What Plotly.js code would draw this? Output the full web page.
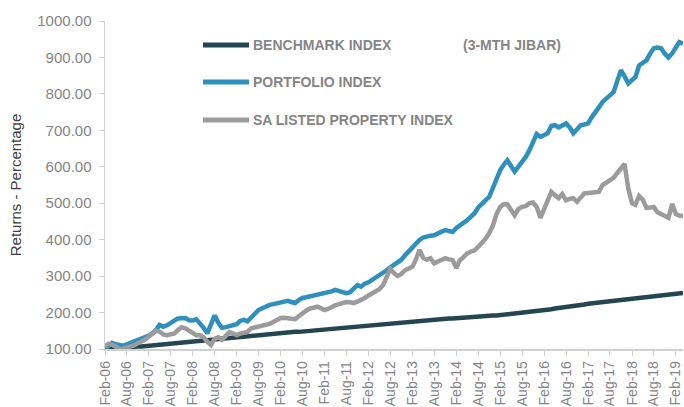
<!DOCTYPE html>
<html>
<head>
<meta charset="utf-8">
<script src="https://cdn.plot.ly/plotly-3.0.1.min.js"></script>
<style>html,body{margin:0;padding:0;background:#fff;}#chart{width:684px;height:407px;}</style>
</head>
<body>
<div id="chart"></div>
<script>
// Monthly observations, Feb-2006 .. Apr-2019
const startYear = 2006, startMonth = 2, nMonths = 159;

const benchmark = [
100,101,101,102,103,104,104,105,106,107,107,
108,109,110,111,112,113,114,115,116,117,118,119,121,122,
123,124,125,126,127,128,129,130,131,132,133,134,
135,136,137,137,138,139,140,141,142,143,143,144,
145,145,146,147,147,148,149,149,150,151,151,152,
153,154,155,156,157,158,159,160,161,162,163,164,
165,166,167,168,169,170,171,172,173,174,175,176,
177,177,178,179,180,181,181,182,183,184,184,185,
186,186,187,188,188,189,190,190,191,192,192,193,
194,195,196,197,198,199,200,201,202,204,205,207,
208,209,211,212,214,215,216,218,219,221,222,224,
225,226,227,228,229,230,231,232,233,234,235,236,
237,238,239,241,242,243,244,246,247,248,250,251,
253,254];

const portfolio = [
100,110,117,113,110,109,113,117,119,122,127,131,137,143,152,166,161,165,173,178,
184,186,185,179,178,182,171,158,143,165,192,172,158,160,162,163,168,177,180,176,
186,198,207,212,218,221,223,225,227,229,232,229,226,234,240,242,244,245,247,249,
251,253,258,262,258,254,253,256,265,275,271,279,283,289,295,302,308,316,324,330,
338,345,357,368,377,388,399,406,410,411,412,418,422,426,423,421,432,440,446,453,
462,472,488,500,508,517,540,570,591,605,618,603,587,600,613,627,645,665,690,682,
686,692,712,714,708,712,719,708,692,703,714,716,719,735,747,763,778,788,796,805,
835,865,848,829,838,846,878,886,892,910,925,927,925,910,900,911,930,942,938];

const property = [
106,114,112,106,100,101,103,106,110,116,120,126,134,140,150,148,140,138,141,143,
152,160,157,150,142,138,138,132,120,111,128,132,125,138,146,142,138,142,145,147,
157,159,161,163,166,169,174,180,185,186,185,184,182,190,199,205,211,214,216,212,
207,210,216,220,223,226,229,228,226,230,234,240,247,253,258,264,275,296,320,308,
300,306,316,321,326,345,372,350,345,349,335,340,346,349,346,344,322,343,352,362,
367,370,380,390,402,418,438,470,490,497,497,482,467,484,490,492,500,502,490,460,
485,510,531,522,514,525,508,512,514,504,515,527,528,528,530,531,550,556,562,570,
583,595,608,540,500,496,520,510,487,488,490,475,470,465,460,498,470,466,465];

const tickDates = ['2006-02-01','2006-08-01','2007-02-01','2007-08-01','2008-02-01','2008-08-01',
'2009-02-01','2009-08-01','2010-02-01','2010-08-01','2011-02-01','2011-08-01','2012-02-01',
'2012-08-01','2013-02-01','2013-08-01','2014-02-01','2014-08-01','2015-02-01','2015-08-01',
'2016-02-01','2016-08-01','2017-02-01','2017-08-01','2018-02-01','2018-08-01','2019-02-01'];
const tickLabels = ['Feb-06','Aug-06','Feb-07','Aug-07','Feb-08','Aug-08','Feb-09','Aug-09',
'Feb-10','Aug-10','Feb-11','Aug-11','Feb-12','Aug-12','Feb-13','Aug-13','Feb-14','Aug-14',
'Feb-15','Aug-15','Feb-16','Aug-16','Feb-17','Aug-17','Feb-18','Aug-18','Feb-19'];
const yTicks = [100,200,300,400,500,600,700,800,900,1000];

const seriesNames = ['BENCHMARK INDEX','PORTFOLIO INDEX','SA LISTED PROPERTY INDEX'];
const subTitle = '(3-MTH JIBAR)';
const colors = ['#254651','#2f8fbd','#9b9b9b'];

const dates = [];
for (let i = 0; i < nMonths; i++) {
  const m0 = startMonth - 1 + i;
  const y = startYear + Math.floor(m0 / 12);
  const m = (m0 % 12) + 1;
  dates.push(y + '-' + String(m).padStart(2, '0') + '-01');
}

const series = [benchmark, portfolio, property];
const traces = series.map((vals, i) => ({
  x: dates, y: vals, type: 'scatter', mode: 'lines', name: seriesNames[i],
  line: {color: colors[i], width: 4.5, shape: 'linear'},
  hoverinfo: 'skip', cliponaxis: false
}));

// plot area in pixels: left 105, right 683, top 21, bottom 349
const L = 105, R = 683, T = 21, B = 349;
const px = v => (v - L) / (R - L);
const py = v => (B - v) / (B - T);
const legendY = [45, 82, 120];

const shapes = legendY.map((yy, i) => ({
  type: 'line', xref: 'paper', yref: 'paper',
  x0: px(203), x1: px(249), y0: py(yy), y1: py(yy),
  line: {color: colors[i], width: 5}
}));
const annotations = legendY.map((yy, i) => ({
  xref: 'paper', yref: 'paper', x: px(251), y: py(yy), xanchor: 'left', yanchor: 'middle',
  text: '<b>' + seriesNames[i] + '</b>', showarrow: false,
  font: {family: 'Liberation Sans, Arial, sans-serif', size: 14, color: '#858585'}
}));
annotations.push({
  xref: 'paper', yref: 'paper', x: px(461), y: py(45), xanchor: 'left', yanchor: 'middle',
  text: '<b>' + subTitle + '</b>', showarrow: false,
  font: {family: 'Liberation Sans, Arial, sans-serif', size: 14, color: '#858585'}
});

const layout = {
  width: 684, height: 407,
  margin: {l: L, r: 684 - R, t: T, b: 407 - B, pad: 0},
  paper_bgcolor: '#ffffff', plot_bgcolor: '#ffffff',
  showlegend: false,
  font: {family: 'Liberation Sans, Arial, sans-serif', color: '#858585'},
  xaxis: {
    type: 'date', range: ['2006-02-01', '2019-04-01'],
    tickmode: 'array', tickvals: tickDates, ticktext: tickLabels,
    tickangle: -90, tickfont: {size: 14, color: '#858585'},
    ticklabeloverflow: 'allow',
    ticks: 'outside', ticklen: 5, tickcolor: '#d0d0d0', tickwidth: 1,
    showline: true, linecolor: '#d0d0d0', linewidth: 1.5,
    showgrid: false, zeroline: false, fixedrange: true
  },
  yaxis: {
    range: [100, 1000], tickmode: 'array', tickvals: yTicks,
    tickformat: '.2f', tickfont: {size: 15, color: '#858585'},
    ticks: 'outside', ticklen: 5, tickcolor: '#d0d0d0', tickwidth: 1,
    ticklabelstandoff: 4,
    showline: true, linecolor: '#d0d0d0', linewidth: 1.5,
    showgrid: false, zeroline: false, fixedrange: true,
    title: {text: 'Returns - Percentage', font: {size: 15, color: '#404040'}, standoff: 12}
  },
  shapes: shapes,
  annotations: annotations
};

Plotly.newPlot('chart', traces, layout, {displayModeBar: false, staticPlot: true});
</script>
</body>
</html>
